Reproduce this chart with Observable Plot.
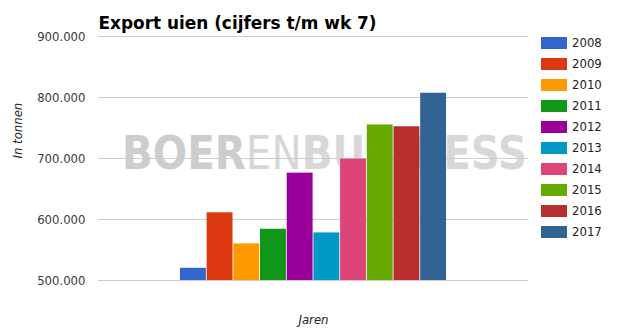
<!DOCTYPE html>
<html><head><meta charset="utf-8">
<script src="https://cdn.jsdelivr.net/npm/d3@7"></script>
<script src="https://cdn.jsdelivr.net/npm/@observablehq/plot@0.6"></script>
<style>
body{margin:0;background:#fff;}
#wrap{position:relative;width:619px;height:334px;font-family:"DejaVu Sans Condensed","DejaVu Sans",sans-serif;font-stretch:condensed;}
#legend{position:absolute;left:541px;top:37px;}
.li{height:21px;display:flex;align-items:flex-start;}
.sw{width:26px;height:12px;}
.lt{margin-left:5px;font-size:13px;line-height:12px;color:#222;}
</style>
</head><body>
<div id="wrap"><div id="legend"></div></div>
<script>
const years = ["2008","2009","2010","2011","2012","2013","2014","2015","2016","2017"];
const exportTonnen = [520000, 611000, 560000, 584000, 676000, 578000, 699000, 755000, 752000, 807000];
const colors = ["#3366cc","#dc3912","#ff9900","#109618","#990099","#0099c6","#dd4477","#66aa00","#b82e2e","#316395"];
const yTicks = [500000, 600000, 700000, 800000, 900000];
const title = "Export uien (cijfers t/m wk 7)";
const yLabel = "In tonnen";
const xLabel = "Jaren";
const watermark = "BOERENBUSINESS";

const data = years.map((y, i) => ({year: y, value: exportTonnen[i]}));
const nl = d3.formatLocale({decimal: ",", thousands: ".", grouping: [3], currency: ["€", ""]});
const fmt = nl.format(",d");
const ff = '"DejaVu Sans Condensed","DejaVu Sans",sans-serif';

const chart = Plot.plot({
  width: 619, height: 334,
  marginLeft: 98, marginRight: 91, marginTop: 36, marginBottom: 54,
  style: {fontFamily: ff, background: "transparent"},
  x: {domain: years, paddingInner: 0.03, paddingOuter: 3.07, round: false, axis: null},
  y: {domain: [500000, 900000]},
  color: {domain: years, range: colors},
  marks: [
    Plot.text([watermark], {frameAnchor: "middle", text: d => d, dx: 11, dy: -4, fontSize: 46, fontWeight: "bold", fill: "#d3d3d3", className: "wm"}),
    Plot.gridY(yTicks, {stroke: "#cccccc", strokeOpacity: 1}),
    Plot.axisY(yTicks, {tickSize: 0, tickPadding: 13, tickFormat: fmt, fontSize: 13, fill: "#3a3a3a", label: null}),
    Plot.barY(data, {x: "year", y1: 500000, y2: "value", fill: "year"}),
    Plot.text([yLabel], {frameAnchor: "left", text: d => d, dx: -81, rotate: -90, fontStyle: "italic", fontSize: 13, fill: "#222"}),
    Plot.text([xLabel], {frameAnchor: "bottom", text: d => d, dy: 43, fontStyle: "italic", fontSize: 13, fill: "#222"}),
    Plot.text([title], {frameAnchor: "top-left", text: d => d, textAnchor: "start", dy: -20, fontSize: 18, fontWeight: "bold", fill: "#000", className: "ttl"})
  ]
});
document.getElementById("wrap").prepend(chart);

// watermark styling: BOER bold, EN light, BUSINESS bold
const wm = d3.select(chart).select("g.wm text");
if (!wm.empty()) {
  wm.text(null).attr("textLength", 405).attr("lengthAdjust", "spacingAndGlyphs").style("font-stretch", "condensed");
  wm.append("tspan").text("BOER").attr("font-weight", 900).attr("fill", "#cdcdcd");
  wm.append("tspan").text("EN").attr("font-weight", 300).attr("fill", "#d6d6d6");
  wm.append("tspan").text("BUSINESS").attr("font-weight", 900).attr("fill", "#d8d8d8");
}
d3.select(chart).select("g.ttl text").attr("textLength", 278).attr("lengthAdjust", "spacingAndGlyphs");

const lg = d3.select("#legend");
years.forEach((y, i) => {
  const row = lg.append("div").attr("class", "li");
  row.append("div").attr("class", "sw").style("background", colors[i]);
  row.append("div").attr("class", "lt").text(y);
});
</script>
</body></html>
